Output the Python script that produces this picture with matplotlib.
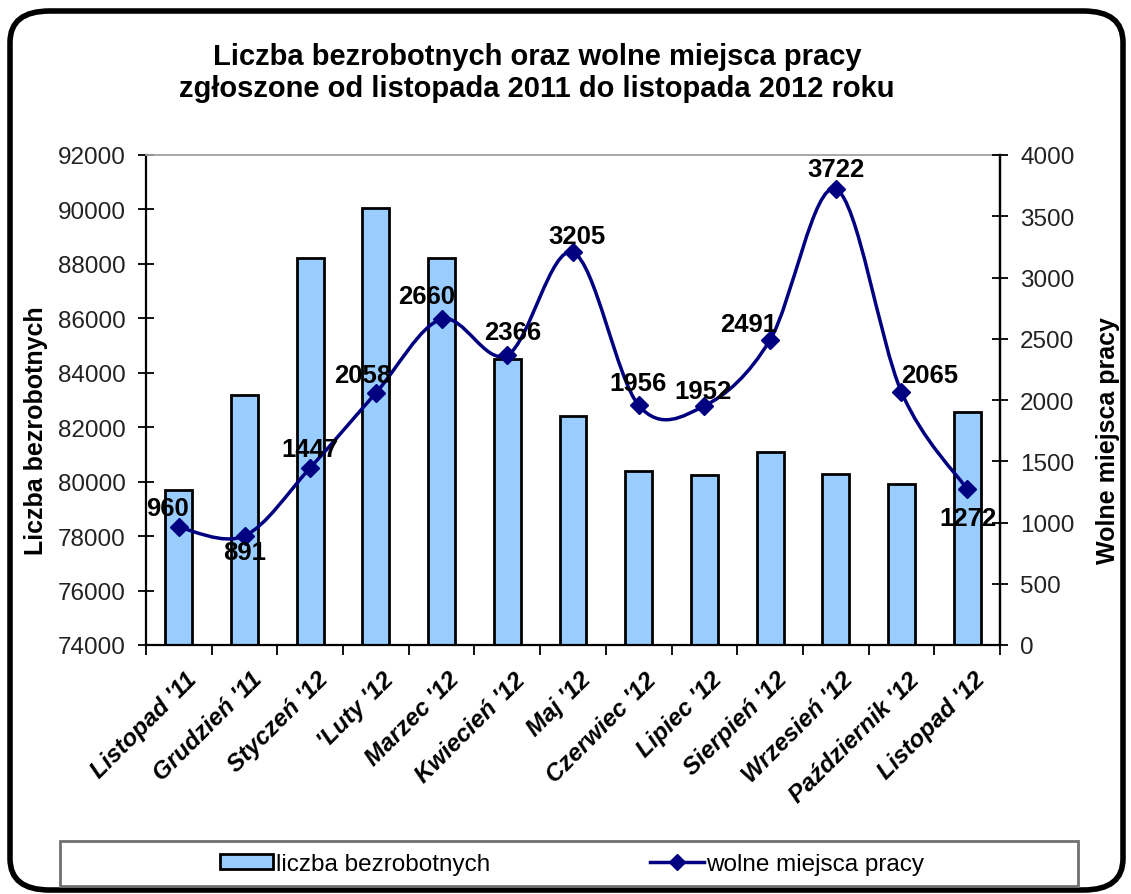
import matplotlib
matplotlib.use('Agg')
import matplotlib.pyplot as plt
from matplotlib.path import Path
from matplotlib.patches import PathPatch, FancyBboxPatch, Rectangle, Patch
from matplotlib.lines import Line2D
import matplotlib.transforms as mtransforms
import numpy as np

plt.rcParams['font.family'] = ['Liberation Sans', 'DejaVu Sans']

# ---- data ----
categories = ["Listopad '11", "Grudzień '11", "Styczeń '12", "'Luty '12", "Marzec '12",
              "Kwiecień '12", "Maj '12", "Czerwiec '12", "Lipiec '12", "Sierpień '12",
              "Wrzesień '12", "Październik '12", "Listopad '12"]
unemployed = [79700, 83200, 88200, 90050, 88200, 84500, 82400, 80400, 80250, 81100, 80300, 79900, 82550]
vacancies = [960, 891, 1447, 2058, 2660, 2366, 3205, 1956, 1952, 2491, 3722, 2065, 1272]
left_ticks = [74000, 76000, 78000, 80000, 82000, 84000, 86000, 88000, 90000, 92000]
right_ticks = [0, 500, 1000, 1500, 2000, 2500, 3000, 3500, 4000]

title = "Liczba bezrobotnych oraz wolne miejsca pracy\nzgłoszone od listopada 2011 do listopada 2012 roku"
left_label = "Liczba bezrobotnych"
right_label = "Wolne miejsca pracy"
legend_labels = ["liczba bezrobotnych", "wolne miejsca pracy"]

# label offsets (pixels) for data labels
label_offsets = [(-11, 19), (0, -16), (0, 19), (-13, 18), (-15, 23), (5, 23), (4, 16),
                 (-1, 22), (-1, 15), (-21, 16), (0, 20), (28, 17), (1, -29)]

W, H = 1131, 895
fig = plt.figure(figsize=(W / 100, H / 100), dpi=100)
fig.patch.set_facecolor('white')

# rounded frame
frame = FancyBboxPatch((10 / W, 4 / H), 1113 / W, 879 / H,
                       boxstyle="round,pad=0,rounding_size=0.035",
                       transform=fig.transFigure, facecolor='white',
                       edgecolor='black', linewidth=4, zorder=0)
fig.patches.append(frame)

ax1 = fig.add_axes([146 / W, 1 - 646 / H, 854 / W, 490 / H])
ax1.set_zorder(1)
x = np.arange(len(categories))
ax1.bar(x, unemployed, width=0.41, color='#99CCFF', edgecolor='black', linewidth=2,
        bottom=0)
ax1.set_ylim(left_ticks[0], left_ticks[-1])
ax1.set_xlim(-0.5, len(categories) - 0.5)
ax1.set_yticks(left_ticks)
ax1.set_yticklabels([str(v) for v in left_ticks], fontsize=17.5, color='#222222')
ax1.tick_params(axis='y', direction='inout', length=11, width=1.3, pad=9)
ax1.set_xticks(x)
ax1.set_xticklabels(categories, rotation=45, ha='right', va='center',
                    rotation_mode='anchor', fontsize=17.5, fontweight='bold',
                    fontstyle='italic')
ax1.tick_params(axis='x', which='major', length=0, pad=22)
offset = mtransforms.ScaledTranslation(14 / 100, 0, fig.dpi_scale_trans)
for lab in ax1.get_xticklabels():
    lab.set_transform(lab.get_transform() + offset)
ax1.set_xticks(np.arange(-0.5, len(categories), 1.0), minor=True)
ax1.tick_params(axis='x', which='minor', direction='out', length=7, width=1.3)
for s in ['left', 'bottom', 'right']:
    ax1.spines[s].set_linewidth(1.6)
    ax1.spines[s].set_color('black')
ax1.spines['top'].set_color('#a0a0a0')
ax1.spines['top'].set_linewidth(1.3)
ax1.set_ylabel(left_label, fontsize=18, fontweight='bold')
ax1.yaxis.set_label_coords(-0.115, 0.44)

ax2 = ax1.twinx()
ax2.set_zorder(2)
ax2.set_ylim(right_ticks[0], right_ticks[-1])
ax2.set_yticks(right_ticks)
ax2.set_yticklabels([str(v) for v in right_ticks], fontsize=17.5, color='#222222')
ax2.tick_params(axis='y', direction='inout', length=11, width=1.3, pad=9)
for s in ax2.spines.values():
    s.set_visible(False)
ax2.spines['right'].set_visible(True)
ax2.spines['right'].set_linewidth(1.6)
ax2.set_ylabel(right_label, fontsize=18, fontweight='bold', rotation=90)
ax2.yaxis.set_label_coords(1.112, 0.42)

# smoothed line (Catmull-Rom style bezier through the points, as Excel smoothing)
yv = np.array(vacancies, dtype=float)
n = len(yv)
verts = [(x[0], yv[0])]
codes = [Path.MOVETO]
for i in range(n - 1):
    im1 = max(i - 1, 0)
    ip2 = min(i + 2, n - 1)
    c1 = (x[i] + (x[i + 1] - x[im1]) / 6.0, yv[i] + (yv[i + 1] - yv[im1]) / 6.0)
    c2 = (x[i + 1] - (x[ip2] - x[i]) / 6.0, yv[i + 1] - (yv[ip2] - yv[i]) / 6.0)
    verts += [c1, c2, (x[i + 1], yv[i + 1])]
    codes += [Path.CURVE4, Path.CURVE4, Path.CURVE4]
curve = PathPatch(Path(verts, codes), facecolor='none', edgecolor='#000080',
                  linewidth=2.5, transform=ax2.transData, zorder=3)
ax2.add_patch(curve)
ax2.plot(x, vacancies, linestyle='none', marker='D', markersize=9,
         color='#000080', zorder=4)

for xi, v, (dx, dy) in zip(x, vacancies, label_offsets):
    ax2.annotate(str(v), (xi, v), xytext=(dx, dy), textcoords='offset pixels',
                 ha='center', va='center', fontsize=18.5, fontweight='bold',
                 color='black', zorder=5)

# title
fig.text(537 / W, 1 - 73 / H, title, ha='center', va='center', fontsize=21,
         fontweight='bold', linespacing=1.2)

# legend box
fig.patches.append(Rectangle((60 / W, 1 - 887 / H), 1018 / W, 45 / H,
                             transform=fig.transFigure, facecolor='white',
                             edgecolor='#707070', linewidth=2, zorder=1))
handles = [Patch(facecolor='#99CCFF', edgecolor='black', linewidth=2),
           Line2D([0], [0], color='#000080', linewidth=2.5, marker='D', markersize=8)]
leg = fig.legend(handles, legend_labels, loc='center', ncol=2,
                 bbox_to_anchor=(572 / W, 1 - 865 / H), frameon=False,
                 fontsize=17.5, handlelength=2.2, handletextpad=0.1,
                 columnspacing=6.6, handleheight=0.55)

fig.savefig('out.png', dpi=100, facecolor='white')
